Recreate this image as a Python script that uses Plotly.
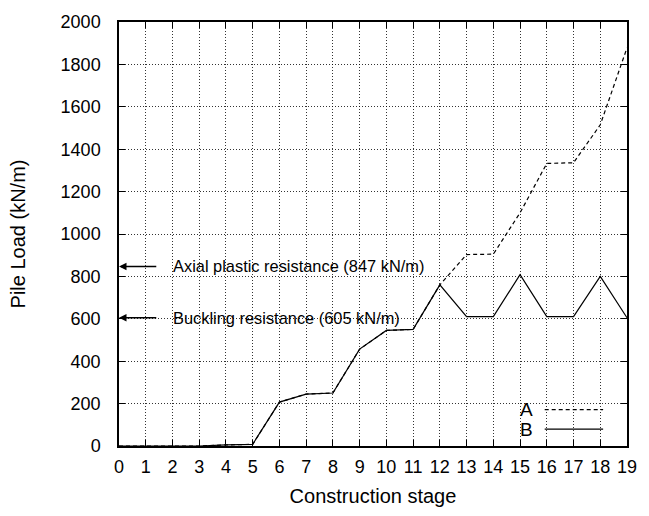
import plotly.graph_objects as go

# Construction stages and pile loads (kN/m)
stages = list(range(20))
load_a = [0, 0, 0, 0, 5, 8, 207, 245, 250, 457, 545, 550, 760,
          903, 905, 1100, 1333, 1336, 1515, 1878]
load_b = [0, 0, 0, 0, 5, 8, 207, 245, 250, 457, 545, 550, 760,
          610, 610, 808, 610, 610, 800, 605]

# Reference resistances
res_labels = ["Axial plastic resistance (847 kN/m)", "Buckling resistance (605 kN/m)"]
res_values = [847, 605]

y_ticks = list(range(0, 2001, 200))

FONT = "Liberation Sans, Arial, sans-serif"
DASH = "4px,3px"

fig = go.Figure()
fig.add_trace(go.Scatter(x=stages, y=load_a, mode="lines", name="A",
                         line=dict(color="black", width=1.2, dash=DASH)))
fig.add_trace(go.Scatter(x=stages, y=load_b, mode="lines", name="B",
                         line=dict(color="black", width=1.2)))

# Resistance labels with arrows pointing at the load axis
for label, val in zip(res_labels, res_values):
    fig.add_annotation(x=0, y=val, ax=1.45, ay=val, xref="x", yref="y",
                       axref="x", ayref="y", text="", showarrow=True,
                       arrowhead=2, arrowsize=1.0, arrowwidth=1.5,
                       arrowcolor="black")
    fig.add_annotation(x=1.95, y=val, xref="x", yref="y", text=label,
                       showarrow=False, xanchor="left", yanchor="middle",
                       font=dict(family=FONT, size=16.4, color="black"))

# gnuplot-style key: label on the left, line sample on the right
key_rows = [("A", DASH, 0.086), ("B", "solid", 0.040)]
for name, dash, yp in key_rows:
    fig.add_annotation(x=0.818, y=yp, xref="paper", yref="paper", text=name,
                       showarrow=False, xanchor="right", yanchor="middle",
                       font=dict(family=FONT, size=19, color="black"))
    fig.add_shape(type="line", xref="paper", yref="paper",
                  x0=0.838, x1=0.953, y0=yp, y1=yp,
                  line=dict(color="black", width=1.2, dash=dash))

axis_common = dict(
    showline=True, linecolor="black", linewidth=1.5, mirror="ticks",
    ticks="inside", ticklen=6, tickcolor="black", tickwidth=1,
    showgrid=True, gridcolor="rgba(0,0,0,0.8)", griddash="1px,2px", gridwidth=1,
    zeroline=False,
    tickfont=dict(family=FONT, size=18, color="black"),
)

fig.update_xaxes(range=[0, 19], tickvals=stages, ticklabelstandoff=4,
                 title=dict(text="Construction stage", standoff=13,
                            font=dict(family=FONT, size=20, color="black")),
                 **axis_common)
fig.update_yaxes(range=[0, 2000], tickvals=y_ticks, ticklabelstandoff=13,
                 title=dict(text="Pile Load (kN/m)", standoff=30,
                            font=dict(family=FONT, size=20, color="black")),
                 **axis_common)

fig.update_layout(
    width=649, height=516,
    margin=dict(l=119, r=18, t=19, b=69),
    paper_bgcolor="white", plot_bgcolor="white",
    showlegend=False,
    font=dict(family=FONT, color="black"),
)

fig.write_html("out.html")
